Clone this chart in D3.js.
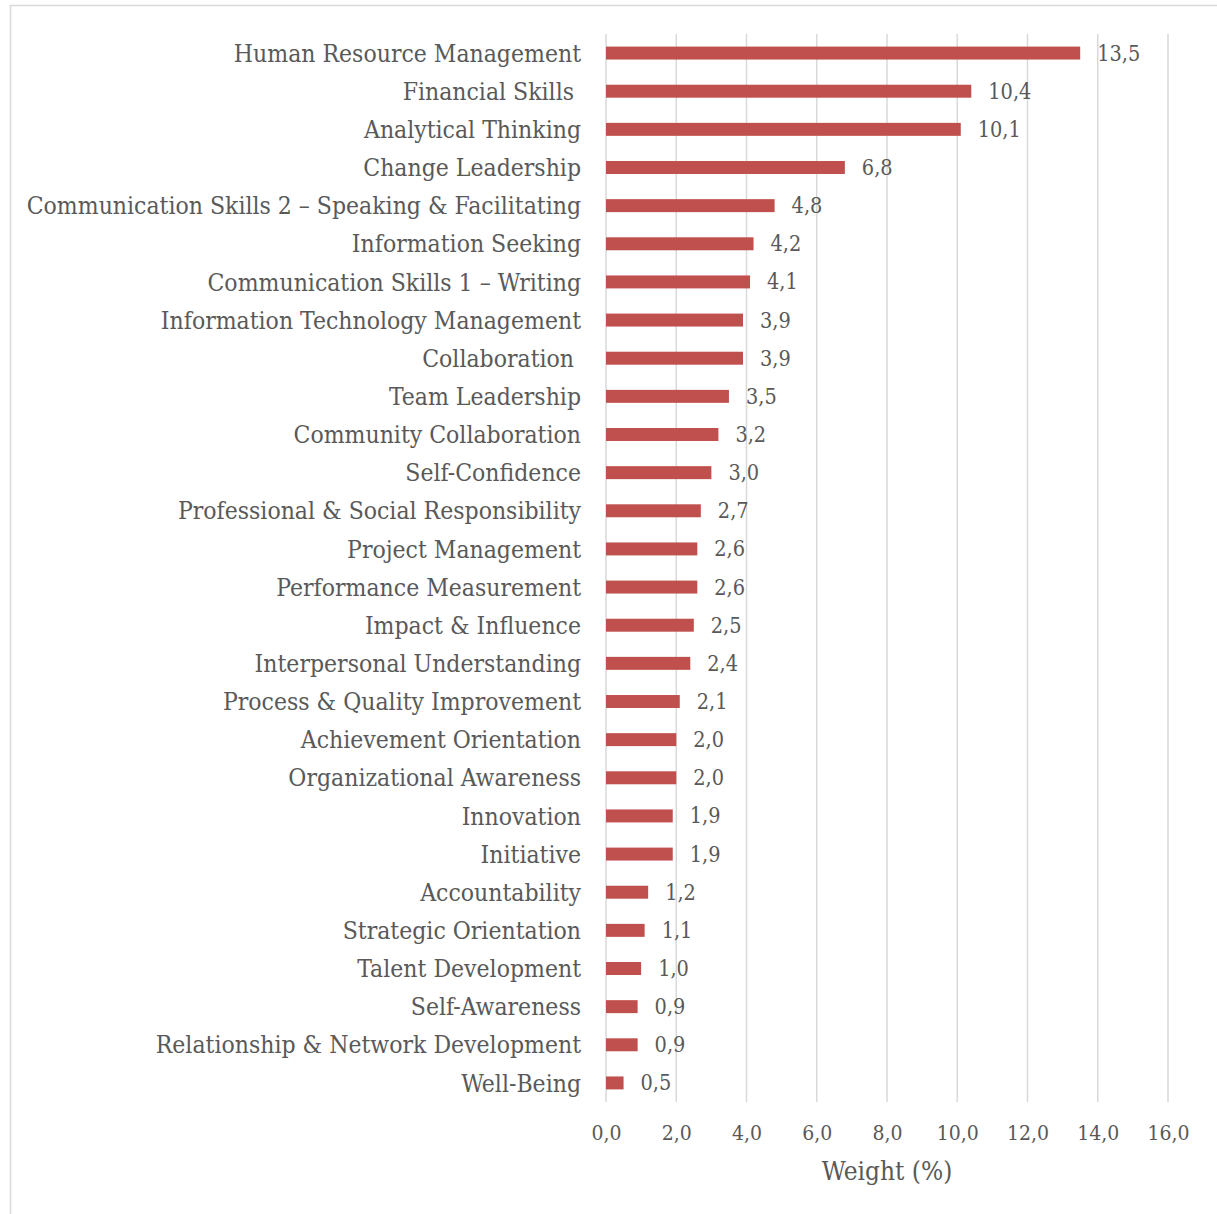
<!DOCTYPE html>
<html>
<head>
<meta charset="utf-8">
<script src="https://cdn.jsdelivr.net/npm/d3@7"></script>
<style>
  html, body { margin: 0; padding: 0; background: #fff; }
  svg text { font-family: "DejaVu Serif Condensed", "DejaVu Serif", serif; fill: #595959; }
</style>
</head>
<body>
<svg id="chart" width="1217" height="1214"></svg>
<script>
// Competency categories, top to bottom
const categories = [
  "Human Resource Management",
  "Financial Skills ",
  "Analytical Thinking",
  "Change Leadership",
  "Communication Skills 2 \u2013 Speaking & Facilitating",
  "Information Seeking",
  "Communication Skills 1 \u2013 Writing",
  "Information Technology Management",
  "Collaboration ",
  "Team Leadership",
  "Community Collaboration",
  "Self-Confidence",
  "Professional & Social Responsibility",
  "Project Management",
  "Performance Measurement",
  "Impact & Influence",
  "Interpersonal Understanding",
  "Process & Quality Improvement",
  "Achievement Orientation",
  "Organizational Awareness",
  "Innovation",
  "Initiative",
  "Accountability",
  "Strategic Orientation",
  "Talent Development",
  "Self-Awareness",
  "Relationship & Network Development",
  "Well-Being"
];

// Weight (%) per competency
const weights = [13.5, 10.4, 10.1, 6.8, 4.8, 4.2, 4.1, 3.9, 3.9, 3.5, 3.2, 3.0, 2.7, 2.6, 2.6,
                 2.5, 2.4, 2.1, 2.0, 2.0, 1.9, 1.9, 1.2, 1.1, 1.0, 0.9, 0.9, 0.5];

// x-axis ticks
const xTicks = [0, 2, 4, 6, 8, 10, 12, 14, 16];
const axisTitle = "Weight (%)";

const fmt = v => d3.format(".1f")(v).replace(".", ",");

const svg = d3.select("#chart");

// chart frame
svg.append("rect")
  .attr("x", 10.5).attr("y", 5.5)
  .attr("width", 1230).attr("height", 1230)
  .attr("fill", "none").attr("stroke", "#d9d9d9").attr("stroke-width", 1.5);

const plotLeft = 606, plotRight = 1168, plotTop = 34, plotBottom = 1102;

const x = d3.scaleLinear().domain([0, 16]).range([plotLeft, plotRight]);
const y = d3.scaleBand().domain(categories).range([plotTop, plotBottom]).paddingInner(0.66).paddingOuter(0.33);

// vertical gridlines
svg.append("g").selectAll("line")
  .data(xTicks)
  .join("line")
  .attr("x1", d => x(d)).attr("x2", d => x(d))
  .attr("y1", plotTop).attr("y2", plotBottom)
  .attr("stroke", "#d9d9d9").attr("stroke-width", 1.5);

// bars
svg.append("g").selectAll("rect")
  .data(weights)
  .join("rect")
  .attr("x", x(0))
  .attr("y", (d, i) => y(categories[i]))
  .attr("width", d => x(d) - x(0))
  .attr("height", y.bandwidth())
  .attr("fill", "#c0504d");

// value labels
svg.append("g").selectAll("text")
  .data(weights)
  .join("text")
  .attr("x", d => x(d) + 17)
  .attr("y", (d, i) => y(categories[i]) + y.bandwidth() / 2)
  .attr("dy", "0.35em")
  .attr("font-size", 21.5)
  .text(d => fmt(d));

// category labels
svg.append("g").selectAll("text")
  .data(categories)
  .join("text")
  .attr("x", 581)
  .attr("y", d => y(d) + y.bandwidth() / 2)
  .attr("dy", "0.35em")
  .attr("text-anchor", "end")
  .attr("font-size", 24.5)
  .style("white-space", "pre")
  .text(d => d);

// x-axis tick labels
const xAxis = d3.axisBottom(x).tickValues(xTicks).tickSize(0).tickPadding(0).tickFormat(fmt);
const gx = svg.append("g").attr("transform", `translate(0, ${plotBottom + 31})`).call(xAxis);
gx.select(".domain").remove();
gx.selectAll("text").attr("font-size", 21).attr("font-family", null).attr("fill", "#595959").attr("dy", "0.35em");

// axis title
svg.append("text")
  .attr("x", (plotLeft + plotRight) / 2)
  .attr("y", 1171)
  .attr("dy", "0.35em")
  .attr("text-anchor", "middle")
  .attr("font-size", 26)
  .text(axisTitle);
</script>
</body>
</html>
